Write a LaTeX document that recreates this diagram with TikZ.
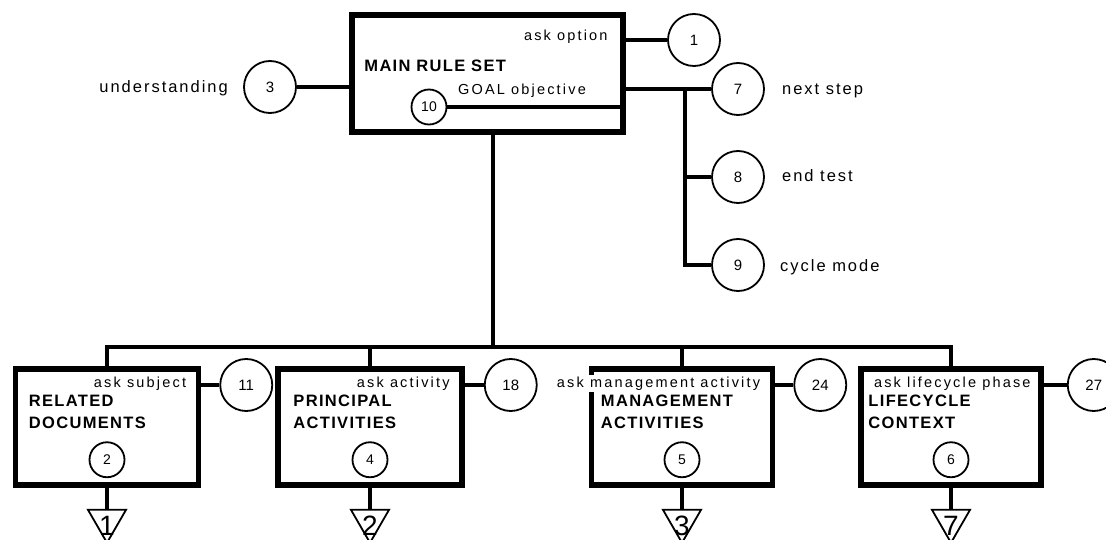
\documentclass[tikz,border=0pt]{standalone}
\usepackage{fontspec}
\setmainfont{Liberation Sans}
\newfontfamily\askfont[LetterSpace=15]{Liberation Sans}
\newfontfamily\headfont[LetterSpace=8]{Liberation Sans}
\newfontfamily\notefont[LetterSpace=12]{Liberation Sans}
\usetikzlibrary{shapes.geometric,calc}

\tikzset{
  rulebox/.style={draw, line width=5.5bp, inner sep=0pt, minimum height=116bp},
  wire/.style={line width=3.4bp},
  ring/.style={circle, draw, line width=1.8bp, minimum size=52bp, inner sep=0pt, font=\fontsize{15bp}{15bp}\selectfont},
  subring/.style={ring, minimum size=35bp, font=\fontsize{14bp}{14bp}\selectfont},
  askcue/.style={anchor=base east, inner sep=2bp, fill=white, font=\askfont\fontsize{14.5bp}{15bp}\selectfont},
  boxhead/.style={anchor=north west, inner sep=0pt, align=left, font=\headfont\bfseries\fontsize{16.5bp}{22bp}\selectfont},
  sidenote/.style={inner sep=0pt, font=\notefont\fontsize{16.5bp}{16bp}\selectfont},
  pageref/.style={regular polygon, regular polygon sides=3, shape border rotate=180, draw, line width=1.8bp, minimum size=44bp, inner sep=0pt},
  pagenum/.style={inner sep=0pt, font=\fontsize{28bp}{28bp}\selectfont}
}

\begin{document}
\begin{tikzpicture}[x=1bp, y=-1bp]
\useasboundingbox (0,0) rectangle (1106,540);

% main rule set
\node[rulebox, minimum width=271bp, minimum height=117bp] (main) at (487.5,73.5) {};
\node[askcue] (askopt) at ($(main.north east)+(-16,28)$) {ask option};
\node[boxhead, anchor=base west] (mainhead) at ($(main.north west)+(15,59)$) {MAIN RULE SET};
\node[askcue, anchor=base west] (goal) at (456,95) {GOAL objective};
\node[subring] (c10) at (429,107) {10};
\node[ring] (c1) at (694,40) {1};
\node[ring] (c3) at (270,87) {3};
\node[ring] (c7) at (738,89) {7};
\node[ring] (c8) at (738,177) {8};
\node[ring] (c9) at (738,265) {9};
\node[sidenote, anchor=base east] (und) at (228,93) {understanding};
\node[sidenote, anchor=base west] (nxt) at (782,95) {next step};
\node[sidenote, anchor=base west] (endt) at (782,182) {end test};
\node[sidenote, anchor=base west] (cyc) at (780,272) {cycle mode};

\draw[wire] (c10.east) -- (c10.east -| main.east);
\draw[wire] (main.east |- c1) -- (c1);
\draw[wire] (main.east |- c7) -- (c7);
\draw[wire] (c3) -- (c3 -| main.west);
\coordinate (fork) at (685,89);
\draw[wire] (fork) |- (c9);
\draw[wire] (fork |- c8) -- (c8);

% lower boxes
\node[rulebox, minimum width=183bp] (b1) at (107,427) {};
\node[rulebox, minimum width=184bp] (b2) at (370,427) {};
\node[rulebox, minimum width=181bp] (b3) at (682,427) {};
\node[rulebox, minimum width=180bp] (b4) at (951,427) {};

\coordinate (bus) at (493,347);
\draw[wire] (b1.north) |- (bus) -| (b4.north);
\draw[wire] (main.south -| bus) -- (bus);
\draw[wire] (b2.north) -- (b2.north |- bus);
\draw[wire] (b3.north) -- (b3.north |- bus);

\node[askcue] (ask1) at ($(b1.north east)+(-13,21)$) {ask subject};
\node[askcue] (ask2) at ($(b2.north east)+(-13,21)$) {ask activity};
\node[askcue] (ask3) at ($(b3.north east)+(-13,21)$) {ask management activity};
\node[askcue] (ask4) at ($(b4.north east)+(-11,21)$) {ask lifecycle phase};

\node[boxhead] (h1) at ($(b1.north west)+(16,29)$) {RELATED\\DOCUMENTS};
\node[boxhead] (h2) at ($(b2.north west)+(18,29)$) {PRINCIPAL\\ACTIVITIES};
\node[boxhead] (h3) at ($(b3.north west)+(12,29)$) {MANAGEMENT\\ACTIVITIES};
\node[boxhead] (h4) at ($(b4.north west)+(10,29)$) {LIFECYCLE\\CONTEXT};

\node[subring] (c2) at ($(b1.south)+(0,-28)$) {2};
\node[subring] (c4) at ($(b2.south)+(0,-28)$) {4};
\node[subring] (c5) at ($(b3.south)+(0,-28)$) {5};
\node[subring] (c6) at ($(b4.south)+(0,-28)$) {6};

\node[ring] (c11) at ($(b1.east)+(45,-42)$) {11};
\node[ring] (c18) at ($(b2.east)+(46,-42)$) {18};
\node[ring] (c24) at ($(b3.east)+(45,-42)$) {24};
\node[ring] (c27) at ($(b4.east)+(50,-42)$) {27};
\draw[wire] (b1.east |- c11) -- (c11);
\draw[wire] (b2.east |- c18) -- (c18);
\draw[wire] (b3.east |- c24) -- (c24);
\draw[wire] (b4.east |- c27) -- (c27);

% off-page references
\node[pageref] (t1) at ($(b1.south)+(0,33)$) {};
\node[pageref] (t2) at ($(b2.south)+(0,33)$) {};
\node[pageref] (t3) at ($(b3.south)+(0,33)$) {};
\node[pageref] (t4) at ($(b4.south)+(0,33)$) {};
\node[pagenum] (n1) at ($(t1.center)+(0,5)$) {1};
\node[pagenum] (n2) at ($(t2.center)+(0,5)$) {2};
\node[pagenum] (n3) at ($(t3.center)+(0,5)$) {3};
\node[pagenum] (n4) at ($(t4.center)+(0,5)$) {7};
\draw[wire] (b1.south) -- (t1.north);
\draw[wire] (b2.south) -- (t2.north);
\draw[wire] (b3.south) -- (t3.north);
\draw[wire] (b4.south) -- (t4.north);
\end{tikzpicture}
\end{document}
